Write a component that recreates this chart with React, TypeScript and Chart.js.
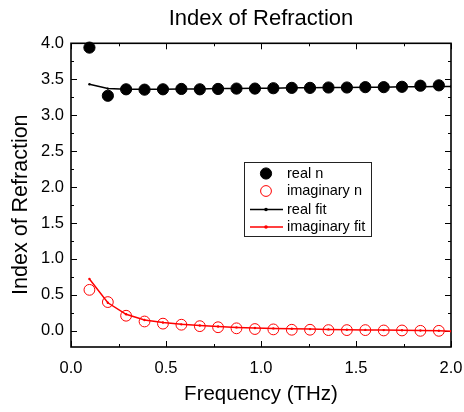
import React, { useEffect, useRef } from "react";
import { Chart, registerables } from "chart.js";

Chart.register(...registerables);

const FONT = "'Liberation Sans', Arial, Helvetica, sans-serif";

// Frequency (THz) of the measured points
const frequency = [0.097, 0.194, 0.29, 0.387, 0.484, 0.581, 0.678, 0.774, 0.871, 0.968, 1.065, 1.162, 1.258, 1.355, 1.452, 1.549, 1.646, 1.742, 1.839, 1.936];
// Real part of refractive index
const realN = [3.94, 3.27, 3.36, 3.355, 3.36, 3.365, 3.36, 3.365, 3.37, 3.37, 3.375, 3.38, 3.38, 3.385, 3.385, 3.39, 3.39, 3.395, 3.41, 3.415];
// Imaginary part of refractive index
const imagN = [0.57, 0.4, 0.21, 0.13, 0.1, 0.085, 0.065, 0.05, 0.035, 0.025, 0.02, 0.015, 0.015, 0.01, 0.01, 0.01, 0.005, 0.005, 0.0, 0.0];
// Fit curves
const fitFrequency = [0.097, 0.194, 0.29, 0.387, 0.484, 0.581, 0.678, 0.774, 0.871, 0.968, 1.065, 1.162, 1.258, 1.355, 1.452, 1.549, 1.646, 1.742, 1.839, 1.936, 2.0];
const realFit = [3.43, 3.37, 3.36, 3.36, 3.36, 3.365, 3.365, 3.37, 3.37, 3.375, 3.375, 3.38, 3.38, 3.385, 3.385, 3.39, 3.39, 3.395, 3.395, 3.4, 3.4];
const imagFit = [0.72, 0.39, 0.23, 0.15, 0.115, 0.09, 0.075, 0.06, 0.048, 0.04, 0.034, 0.028, 0.024, 0.02, 0.016, 0.013, 0.01, 0.007, 0.004, 0.002, -0.005];

const xTicks = [0, 0.5, 1.0, 1.5, 2.0];
const xMinorTicks = [0.25, 0.75, 1.25, 1.75];
const yTicks = [0, 0.5, 1.0, 1.5, 2.0, 2.5, 3.0, 3.5, 4.0];
const yMinorTicks = [0.25, 0.75, 1.25, 1.75, 2.25, 2.75, 3.25, 3.75];

const seriesLabels = ["real n", "imaginary n", "real fit", "imaginary fit"];
const yAxisTitle = "Index of Refraction";

const toPoints = (xs: number[], ys: number[]) => xs.map((x, i) => ({ x, y: ys[i] }));

const framePlugin = {
  id: "frameTicks",
  beforeDatasetsDraw(chart: any) {
    const { ctx, chartArea, scales } = chart;
    const { left, right, top, bottom } = chartArea;
    const xs = scales.x;
    const ys = scales.y;
    ctx.save();
    ctx.strokeStyle = "#000";
    ctx.lineWidth = 1;
    const major = 6;
    const minor = 3;
    ctx.beginPath();
    xTicks.forEach((v) => {
      const p = Math.round(xs.getPixelForValue(v)) + 0.5;
      ctx.moveTo(p, bottom); ctx.lineTo(p, bottom - major);
      ctx.moveTo(p, top); ctx.lineTo(p, top + major);
    });
    xMinorTicks.forEach((v) => {
      const p = Math.round(xs.getPixelForValue(v)) + 0.5;
      ctx.moveTo(p, bottom); ctx.lineTo(p, bottom - minor);
      ctx.moveTo(p, top); ctx.lineTo(p, top + minor);
    });
    yTicks.forEach((v) => {
      const p = Math.round(ys.getPixelForValue(v)) + 0.5;
      ctx.moveTo(left, p); ctx.lineTo(left + major, p);
      ctx.moveTo(right, p); ctx.lineTo(right - major, p);
    });
    yMinorTicks.forEach((v) => {
      const p = Math.round(ys.getPixelForValue(v)) + 0.5;
      ctx.moveTo(left, p); ctx.lineTo(left + minor, p);
      ctx.moveTo(right, p); ctx.lineTo(right - minor, p);
    });
    ctx.stroke();
    ctx.lineWidth = 1.6;
    ctx.strokeRect(left, top, right - left, bottom - top);
    ctx.restore();
  },
  afterDraw(chart: any) {
    const { ctx, chartArea } = chart;
    ctx.save();
    ctx.translate(21.5, (chartArea.top + chartArea.bottom) / 2 + 9.5);
    ctx.rotate(-Math.PI / 2);
    ctx.font = `21.5px ${FONT}`;
    ctx.fillStyle = "#000";
    ctx.textAlign = "center";
    ctx.textBaseline = "middle";
    ctx.fillText(yAxisTitle, 0, 0);
    ctx.restore();
  },
};

const legendPlugin = {
  id: "insideLegend",
  afterDraw(chart: any) {
    const { ctx } = chart;
    const ds = chart.data.datasets;
    const bx = 244, by = 162, bw = 127, bh = 74;
    ctx.save();
    ctx.fillStyle = "#fff";
    ctx.fillRect(bx, by, bw, bh);
    ctx.strokeStyle = "#222";
    ctx.lineWidth = 1;
    ctx.strokeRect(bx + 0.5, by + 0.5, bw, bh);
    const rows = [173.5, 191, 209.5, 227];
    const symX = 266;
    ctx.font = `14.5px ${FONT}`;
    ctx.textBaseline = "middle";
    ctx.textAlign = "left";
    ds.forEach((d: any, i: number) => {
      const yy = rows[i];
      if (d.showLine === false) {
        ctx.beginPath();
        ctx.arc(symX, yy, d.pointRadius, 0, Math.PI * 2);
        ctx.fillStyle = d.pointBackgroundColor;
        ctx.strokeStyle = d.pointBorderColor;
        ctx.lineWidth = d.pointBorderWidth;
        if (d.pointBackgroundColor !== "transparent") ctx.fill();
        ctx.stroke();
      } else {
        ctx.beginPath();
        ctx.strokeStyle = d.borderColor;
        ctx.lineWidth = d.borderWidth;
        ctx.moveTo(250, yy);
        ctx.lineTo(283, yy);
        ctx.stroke();
        ctx.beginPath();
        ctx.fillStyle = d.borderColor;
        ctx.arc(symX, yy, 1.8, 0, Math.PI * 2);
        ctx.fill();
      }
      ctx.fillStyle = "#000";
      ctx.fillText(d.label, 287, yy);
    });
    ctx.restore();
  },
};

export default function App() {
  const ref = useRef<HTMLCanvasElement | null>(null);

  useEffect(() => {
    if (!ref.current) return;
    const chart = new Chart(ref.current, {
      type: "line",
      data: {
        datasets: [
          {
            label: seriesLabels[0],
            data: toPoints(frequency, realN),
            showLine: false,
            pointRadius: 5.6,
            pointBackgroundColor: "#000",
            pointBorderColor: "#000",
            pointBorderWidth: 1,
            borderColor: "#000",
            clip: false as any,
            order: 1,
          },
          {
            label: seriesLabels[1],
            data: toPoints(frequency, imagN),
            showLine: false,
            pointRadius: 5.4,
            pointBackgroundColor: "transparent",
            pointBorderColor: "#ff0000",
            pointBorderWidth: 1,
            borderColor: "#ff0000",
            clip: false as any,
            order: 2,
          },
          {
            label: seriesLabels[2],
            data: toPoints(fitFrequency, realFit),
            borderColor: "#000",
            borderWidth: 1.5,
            pointRadius: 1.2,
            pointBackgroundColor: "#000",
            pointBorderWidth: 0,
            tension: 0,
            order: 3,
          },
          {
            label: seriesLabels[3],
            data: toPoints(fitFrequency, imagFit),
            borderColor: "#ff0000",
            borderWidth: 1.5,
            pointRadius: 1.2,
            pointBackgroundColor: "#ff0000",
            pointBorderWidth: 0,
            tension: 0,
            order: 4,
          },
        ],
      },
      options: {
        animation: false,
        responsive: false,
        maintainAspectRatio: false,
        layout: { padding: { left: 0, right: 13, top: 0, bottom: 0 } },
        plugins: {
          legend: { display: false },
          tooltip: { enabled: false },
          title: {
            display: true,
            text: "Index of Refraction",
            fullSize: false,
            color: "#000",
            font: { family: FONT, size: 22, weight: "normal" as any },
            padding: { top: 5.5, bottom: 11.4 },
          },
        },
        scales: {
          x: {
            type: "linear",
            min: 0,
            max: 2,
            afterFit: (s: any) => { s.height = 65; s.paddingLeft = 0; s.paddingRight = 0; },
            afterBuildTicks: (s: any) => { s.ticks = xTicks.map((v) => ({ value: v })); },
            grid: { display: false, drawTicks: false },
            border: { display: false },
            ticks: {
              color: "#000",
              padding: 12,
              font: { family: FONT, size: 16.5 },
              callback: (v: any) => Number(v).toFixed(1),
            },
            title: {
              display: true,
              text: "Frequency (THz)",
              color: "#000",
              font: { family: FONT, size: 20.5 },
              padding: { top: 0, bottom: 5 },
            },
          },
          y: {
            type: "linear",
            min: -0.225,
            max: 4.0,
            afterFit: (s: any) => { s.width = 71; s.paddingTop = 0; s.paddingBottom = 0; },
            afterBuildTicks: (s: any) => { s.ticks = yTicks.map((v) => ({ value: v })); },
            grid: { display: false, drawTicks: false },
            border: { display: false },
            ticks: {
              color: "#000",
              padding: 7,
              font: { family: FONT, size: 16.5 },
              callback: (v: any) => Number(v).toFixed(1),
            },
            title: { display: false },
          },
        },
      },
      plugins: [framePlugin, legendPlugin],
    });
    return () => chart.destroy();
  }, []);

  return (
    <div style={{ position: "fixed", left: 0, top: 0, width: 464, height: 412, background: "#fff" }}>
      <canvas ref={ref} width={464} height={412} style={{ display: "block" }} />
    </div>
  );
}
